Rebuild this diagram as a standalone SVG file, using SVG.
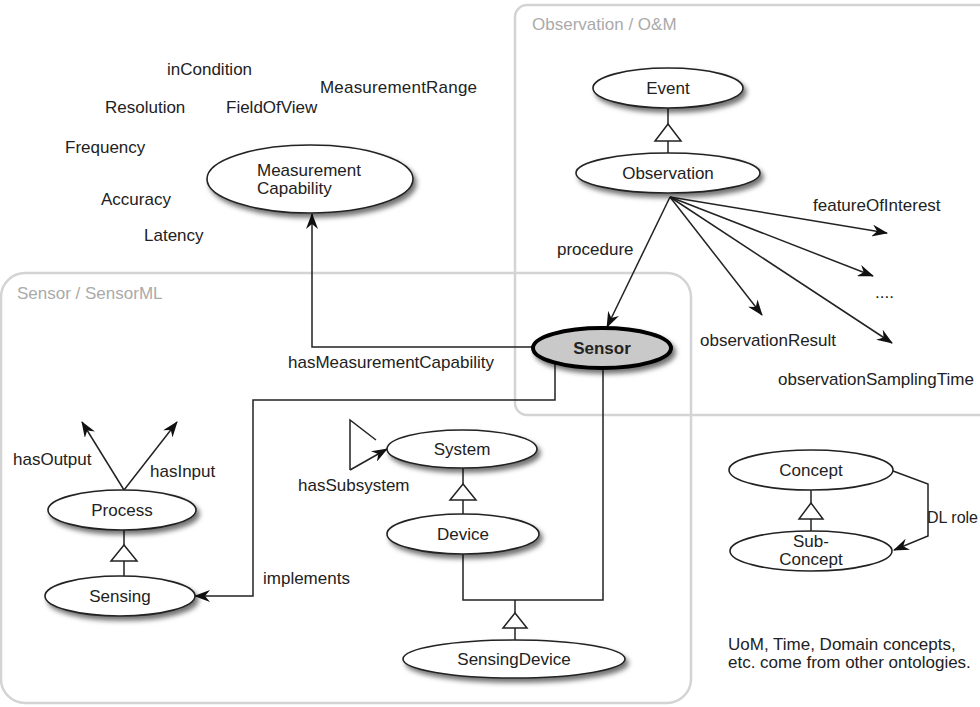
<svg xmlns="http://www.w3.org/2000/svg" width="980" height="707" viewBox="0 0 980 707">
<defs>
<style>
text{font-family:"Liberation Sans",Arial,sans-serif;font-size:17px;fill:#222}
.c{text-anchor:middle}
.g{fill:#aaa}
.box{fill:none;stroke:#d4d4d4;stroke-width:2.5}
.n{fill:#fff;stroke:#222;stroke-width:1.6}
.sh{filter:url(#ds)}
.l{fill:none;stroke:#222;stroke-width:1.5}
.a{marker-end:url(#arr)}
.tri{fill:#fff;stroke:#222;stroke-width:1.5}
</style>
<filter id="ds" x="-20%" y="-30%" width="150%" height="190%">
<feDropShadow dx="3" dy="4" stdDeviation="2.5" flood-color="#000" flood-opacity="0.55"/>
</filter>
<marker id="arr" viewBox="0 0 16 12" refX="15" refY="6" markerWidth="16" markerHeight="12" markerUnits="userSpaceOnUse" orient="auto">
<path d="M0,0 L16,6 L0,12 L5,6 Z" fill="#111"/>
</marker>
</defs>

<g id="groups">
<rect class="box" x="515" y="5" width="500" height="410" rx="12"/>
<text class="g" x="532" y="30">Observation / O&amp;M</text>
<rect class="box" x="1" y="273" width="690" height="430" rx="24"/>
<text class="g" x="17" y="299">Sensor / SensorML</text>
</g>

<g id="attributes">
<text x="167" y="75">inCondition</text>
<text x="320" y="93" textLength="157">MeasurementRange</text>
<text x="105" y="113">Resolution</text>
<text x="226" y="113">FieldOfView</text>
<text x="65" y="153">Frequency</text>
<text x="101" y="205">Accuracy</text>
<text x="144" y="241">Latency</text>
</g>

<g id="connectors">
<polyline class="l a" points="533,347 312,347 312,214"/>
<line class="l a" x1="670" y1="197" x2="607" y2="327"/>
<line class="l a" x1="670" y1="197" x2="887" y2="233"/>
<line class="l a" x1="670" y1="197" x2="873" y2="276"/>
<line class="l a" x1="670" y1="197" x2="762" y2="315"/>
<line class="l a" x1="670" y1="197" x2="892" y2="343"/>
<polyline class="l a" points="555,363 555,400 253,400 253,596 195,596"/>
<polyline class="l" points="603,368 603,600 463,600 463,554"/>
<line class="l" x1="515" y1="600" x2="515" y2="640"/>
<line class="l" x1="463" y1="467" x2="463" y2="514"/>
<polyline class="l" points="376,440 350,420 350,470"/>
<line class="l a" x1="350" y1="470" x2="387" y2="449"/>
<line class="l a" x1="124" y1="490" x2="82" y2="422"/>
<line class="l a" x1="124" y1="490" x2="177" y2="422"/>
<line class="l" x1="124" y1="530" x2="124" y2="576"/>
<line class="l" x1="668" y1="108" x2="668" y2="153"/>
<line class="l" x1="811" y1="490" x2="811" y2="531"/>
<polyline class="l a" points="893,471 928,484 928,536 894,550"/>
<polygon class="tri" points="668,124 655,141 681,141"/>
<polygon class="tri" points="463,484 450,500 476,500"/>
<polygon class="tri" points="515,613 503,628 527,628"/>
<polygon class="tri" points="124,545 111,561 137,561"/>
<polygon class="tri" points="811,503 799,519 823,519"/>
</g>

<g id="labels">
<text x="288" y="368">hasMeasurementCapability</text>
<text x="557" y="255">procedure</text>
<text x="813" y="211">featureOfInterest</text>
<text x="875" y="298">....</text>
<text x="700" y="346">observationResult</text>
<text x="778" y="385">observationSamplingTime</text>
<text x="13" y="465">hasOutput</text>
<text x="150" y="477">hasInput</text>
<text x="263" y="584">implements</text>
<text x="298" y="491">hasSubsystem</text>
<text x="927" y="523" style="font-size:16px">DL role</text>
<text x="728" y="650">UoM, Time, Domain concepts,</text>
<text x="728" y="668">etc. come from other ontologies.</text>
</g>

<g id="n-measurementcapability">
<ellipse class="n sh" cx="310" cy="179" rx="103" ry="34"/>
<text x="257" y="176">Measurement</text>
<text x="257" y="194">Capability</text>
</g>
<g id="n-event">
<ellipse class="n sh" cx="668" cy="88" rx="75" ry="20"/>
<text class="c" x="668" y="94">Event</text>
</g>
<g id="n-observation">
<ellipse class="n sh" cx="668" cy="173" rx="92" ry="20"/>
<text class="c" x="668" y="179">Observation</text>
</g>
<g id="n-sensor">
<ellipse class="sh" cx="602" cy="348" rx="69" ry="20" fill="#c9c9c9" stroke="#000" stroke-width="4"/>
<text class="c" x="602" y="354" font-weight="bold">Sensor</text>
</g>
<g id="n-system">
<ellipse class="n sh" cx="462" cy="449" rx="75" ry="19"/>
<text class="c" x="462" y="455">System</text>
</g>
<g id="n-device">
<ellipse class="n sh" cx="463" cy="534" rx="76" ry="20"/>
<text class="c" x="463" y="540">Device</text>
</g>
<g id="n-sensingdevice">
<ellipse class="n sh" cx="514" cy="659" rx="111" ry="19"/>
<text class="c" x="514" y="665">SensingDevice</text>
</g>
<g id="n-process">
<ellipse class="n sh" cx="122" cy="510" rx="74" ry="20"/>
<text class="c" x="122" y="516">Process</text>
</g>
<g id="n-sensing">
<ellipse class="n sh" cx="120" cy="596" rx="75" ry="20"/>
<text class="c" x="120" y="602">Sensing</text>
</g>
<g id="n-concept">
<ellipse class="n" cx="811" cy="470" rx="82" ry="20"/>
<text class="c" x="811" y="476">Concept</text>
</g>
<g id="n-subconcept">
<ellipse class="n" cx="811" cy="551" rx="81" ry="20"/>
<text class="c" x="811" y="547">Sub-</text>
<text class="c" x="811" y="565">Concept</text>
</g>
</svg>
